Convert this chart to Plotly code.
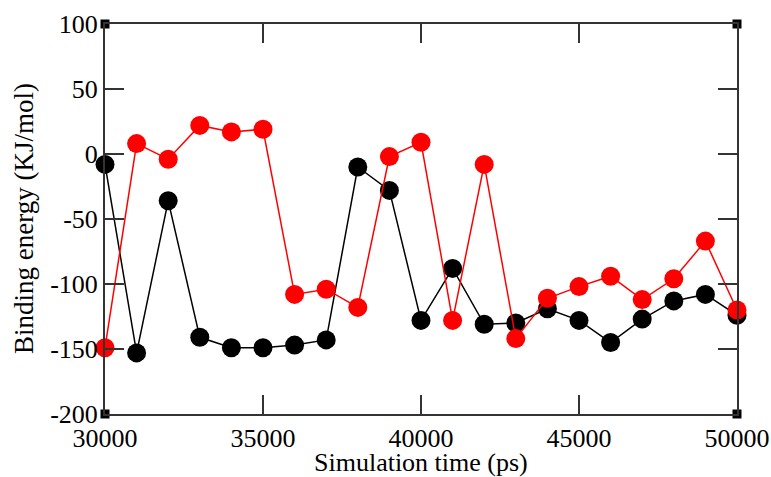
import plotly.graph_objects as go

time_ps = [30000, 31000, 32000, 33000, 34000, 35000, 36000, 37000, 38000, 39000, 40000,
           41000, 42000, 43000, 44000, 45000, 46000, 47000, 48000, 49000, 50000]
black_energy = [-8, -153, -36, -141, -149, -149, -147, -143, -10, -28, -128,
                -88, -131, -130, -119, -128, -145, -127, -113, -108, -124]
red_energy = [-149, 8, -4, 22, 17, 19, -108, -104, -118, -2, 9,
              -128, -8, -142, -111, -102, -94, -112, -96, -67, -120]

x_range = [30000, 50000]
y_range = [-200, 100]
x_ticks = [30000, 35000, 40000, 45000, 50000]
y_ticks = [-200, -150, -100, -50, 0, 50, 100]

x_title = "Simulation time (ps)"
y_title = "Binding energy (KJ/mol)"

fig = go.Figure()
fig.add_trace(go.Scatter(x=time_ps, y=black_energy, mode="lines+markers",
                         line=dict(color="black", width=1.5),
                         marker=dict(color="black", size=19),
                         cliponaxis=False, showlegend=False))
fig.add_trace(go.Scatter(x=time_ps, y=red_energy, mode="lines+markers",
                         line=dict(color="red", width=1.5),
                         marker=dict(color="red", size=19),
                         cliponaxis=False, showlegend=False))
# corner square markers
fig.add_trace(go.Scatter(x=[x_range[0], x_range[1], x_range[0], x_range[1]],
                         y=[y_range[0], y_range[0], y_range[1], y_range[1]],
                         mode="markers", marker=dict(symbol="square", color="black", size=9),
                         cliponaxis=False, showlegend=False, hoverinfo="skip"))

axis_common = dict(showgrid=False, zeroline=False, showline=True, linecolor="#333",
                   linewidth=2, ticks="inside", ticklen=19, tickwidth=1.5, tickcolor="#333",
                   mirror="allticks", automargin=False,
                   tickfont=dict(family="Liberation Serif", size=26, color="black"))

fig.update_xaxes(range=x_range, tickvals=x_ticks, ticktext=[str(v) for v in x_ticks],
                 **axis_common)
fig.update_yaxes(range=y_range, tickvals=y_ticks, ticktext=[str(v) for v in y_ticks],
                 **axis_common)

title_font = dict(family="Liberation Serif", size=26, color="black")
fig.add_annotation(text=x_title, xref="paper", yref="paper", x=0.5, y=0,
                   xanchor="center", yanchor="middle", yshift=-48,
                   showarrow=False, font=title_font)
fig.add_annotation(text=y_title, xref="paper", yref="paper", x=0, y=0.5,
                   xanchor="center", yanchor="middle", xshift=-81, textangle=-90,
                   showarrow=False, font=dict(family="Liberation Serif", size=27, color="black"))

fig.update_layout(width=771, height=477, margin=dict(l=105, r=34, t=24, b=63),
                  paper_bgcolor="white", plot_bgcolor="white")
# remove the default page body margin so the figure fills the window exactly
fig.write_html("out.html", config={"displayModeBar": False},
               post_script="document.body.style.margin='0';document.body.style.overflow='hidden';")
